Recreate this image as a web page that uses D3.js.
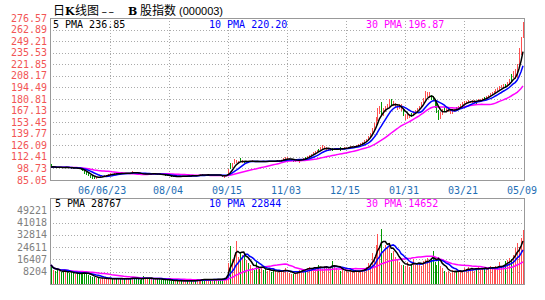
<!DOCTYPE html>
<meta charset="utf-8">
<style>
    body { margin: 0; background: #fff; }
    text { font-family: "DejaVu Sans Mono", monospace; font-size: 10px; }
    .grid line { stroke: #aaa; stroke-dasharray: 1,2; }
    .frame { fill: none; stroke: #999; }
    .bar { shape-rendering: crispEdges; }
</style>
<svg id="chart" width="545" height="300"></svg>
<script src="https://d3js.org/d3.v7.min.js"></script>
<script>
// daily bars, 2006-05 .. 2007-05-09, index 0..240
var opens = [
    101.8,100.4,101.0,100.1,99.4,100.3,100.0,99.5,100.4,99.8,
    99.4,99.2,98.7,99.5,98.6,98.1,97.4,96.0,94.2,92.4,
    91.0,89.2,88.0,87.6,88.6,88.1,89.0,89.9,90.6,91.0,
    91.6,92.4,92.0,92.8,92.4,93.1,92.6,93.2,92.8,93.0,
    93.4,92.9,94.6,94.0,93.2,92.8,92.4,91.9,91.8,92.3,
    92.6,92.2,92.5,91.9,92.4,92.1,91.6,91.3,91.0,90.6,
    90.2,89.8,89.4,89.0,89.3,89.1,89.5,89.2,89.6,89.9,
    89.7,90.0,89.8,90.3,90.1,90.6,91.0,91.4,91.2,90.8,
    91.1,91.3,91.0,91.2,90.9,91.1,90.7,90.2,89.2,89.5,
    90.5,104.0,99.0,104.0,105.0,106.0,108.0,106.5,107.5,106.8,
    107.2,106.6,107.3,107.8,107.0,106.6,107.0,106.8,107.5,107.2,
    106.8,107.0,107.6,107.3,106.9,107.4,107.2,107.6,108.6,110.0,
    110.0,109.0,108.0,108.5,108.0,108.5,108.0,108.5,109.0,112.0,
    111.5,113.0,114.0,115.5,117.0,118.0,121.5,121.0,122.5,122.5,
    120.5,121.0,119.5,122.0,121.5,120.6,121.0,124.0,121.5,122.5,
    122.8,123.5,124.0,124.5,123.6,124.0,126.0,127.0,128.0,129.0,
    131,133,136,140,145,151,156,164,172,164,
    168,170,173,180,172.5,170.5,169,171,166.5,168,
    157,158,158.5,163.5,163,165,167,169,172,176,
    180,186,182.5,184,183,180,174,166,160,164,
    171,166,167,164.5,166,166,170.5,170,172,174,
    176,177,176.5,177,178,176.5,178.5,178,178.5,179,
    182.5,182,183,185,186,188,189,191,192,194,
    195,197,196,199,209,208,205,206,221,238,254
];
var highs = [
    103.9,101.6,101.3,100.5,100.6,100.8,100.3,100.7,100.6,100.1,
    99.8,99.5,99.9,99.7,98.9,98.4,97.6,96.2,94.5,92.8,
    91.3,89.6,88.6,89.0,89.1,89.4,90.2,91.0,91.5,92.0,
    92.8,92.7,93.2,93.1,93.4,93.3,93.6,93.5,93.4,93.8,
    93.6,96.1,95.0,94.2,93.5,93.0,92.7,92.9,92.6,93.0,
    92.9,92.8,92.7,92.7,92.6,92.3,91.9,91.6,91.2,90.9,
    90.5,90.0,89.7,89.7,89.6,89.9,89.7,90.0,90.3,90.2,
    90.4,90.3,90.6,90.5,91.0,91.4,92.1,91.7,91.4,91.4,
    91.6,91.5,91.5,91.4,91.4,91.3,90.9,90.4,89.9,90.7,
    98.0,105.0,105.0,109.5,108.5,108.0,110.5,108.5,108.0,107.8,
    107.6,107.9,108.4,108.0,107.3,107.5,107.4,108.0,107.9,107.5,
    107.5,108.1,108.0,107.6,107.9,108.5,108.3,109.2,110.6,111.8,
    112.0,110.8,109.8,108.9,109.0,109.5,109.4,109.6,110.6,112.0,
    113.6,114.8,116.2,117.8,119.0,120.5,122.0,124.0,126.4,125.0,
    123.5,123.0,122.6,122.6,123.4,123.0,123.2,124.4,123.0,123.8,
    124.0,124.6,125.2,125.8,125.4,126.6,127.6,128.8,129.8,131.8,
    134,137,141,146.5,153,160,169.8,172,177,170,
    172,175,181,181,178,175.5,173.5,175,174.5,168.5,
    163.5,163,162.5,164,166.5,168,170.5,173,177.5,181.5,
    190,189.5,189,186,184,180.5,177,168,166,169.5,
    171.5,171,170.5,169.5,169,169.5,171,173,175,177,
    178,179,179.5,179,180,180,179,181,181,182,
    183,184.5,186,187.5,189,190.5,192.5,193.5,196,197,
    198.5,199,200.5,204.5,210,214,216,222,241,254,272
];
var lows = [
    99.6,99.8,99.5,99.0,99.1,99.6,99.2,99.3,99.4,99.0,
    98.7,98.3,98.5,98.2,97.6,96.8,95.2,93.0,91.5,89.8,
    87.5,86.4,86.0,87.2,87.6,87.8,88.7,89.5,90.2,90.6,
    91.3,91.6,91.8,92.0,92.1,92.2,92.3,92.5,92.4,92.7,
    92.5,92.8,93.6,92.9,92.3,91.9,91.5,91.0,91.5,92.0,
    91.8,91.9,91.5,91.6,91.7,91.2,90.9,90.5,90.1,89.8,
    89.3,88.9,88.3,88.5,88.6,88.8,88.8,89.0,89.3,89.4,
    89.4,89.5,89.6,89.8,89.9,90.4,90.8,90.9,90.5,90.5,
    90.8,90.7,90.7,90.5,90.6,90.3,89.7,88.3,88.0,89.2,
    90.3,98.0,98.5,103.0,104.5,105.0,106.0,105.5,106.0,106.2,
    106.0,106.2,107.0,106.5,105.9,106.2,106.3,106.5,106.8,106.4,
    106.4,106.8,106.9,106.5,106.6,107.1,107.0,107.4,108.4,109.6,
    109.8,108.8,107.8,106.5,107.2,108.0,105.0,107.8,108.6,109.6,
    111.0,112.5,113.6,115.0,116.4,117.5,119.0,120.5,122.0,122.0,
    120.0,119.8,118.5,119.0,120.6,120.2,120.5,120.0,121.0,122.0,
    122.3,123.0,123.6,124.0,123.4,123.8,125.5,126.5,127.5,128.6,
    130.5,132.5,135.5,139.5,144.5,150,155,162,162,161,
    165,168.5,172,174,172,170,168,169.5,166,160,
    156.5,157,158,159,162,163.5,165.5,168,171,175,
    179,184,182,180,177.5,170,164,156,158,162.5,
    166,165.5,166,164,163,165.5,166,169,171,173,
    175,176,176,176.5,177,176,176,177,178,178.5,
    180,181,182,184,185,187,188,190,191,193,
    194,194.5,195,198,202,206,204,205,219,233,253
];
var closes = [
    100.5,101.0,100.0,99.5,100.2,100.0,99.6,100.3,99.8,99.5,
    99.2,98.8,99.5,98.6,98.2,97.5,96.0,94.0,92.5,91.0,
    89.0,88.2,87.8,88.5,88.2,89.0,89.8,90.5,91.0,91.5,
    92.3,92.0,92.8,92.4,93.0,92.6,93.2,92.8,93.0,93.4,
    92.9,94.5,94.0,93.2,92.8,92.4,92.0,91.8,92.3,92.6,
    92.2,92.5,91.9,92.4,92.1,91.6,91.3,91.0,90.6,90.2,
    89.8,89.4,89.0,89.3,89.1,89.5,89.2,89.6,89.9,89.7,
    90.0,89.8,90.3,90.1,90.6,91.0,91.4,91.2,90.8,91.1,
    91.3,91.0,91.2,90.9,91.1,90.7,90.2,89.2,89.5,90.3,
    97.0,99.0,104.0,107.0,106.0,107.5,106.5,107.5,106.8,107.2,
    106.6,107.3,107.8,107.0,106.6,107.0,106.8,107.5,107.2,106.8,
    107.0,107.6,107.3,106.9,107.4,108.0,107.6,108.6,110.0,111.0,
    110.5,109.5,108.5,108.0,108.5,109.0,108.5,109.0,110.0,111.5,
    113.0,114.0,115.5,117.0,118.0,119.5,121.0,122.5,124.0,123.0,
    121.0,122.0,120.0,121.5,122.5,121.0,122.5,121.5,122.5,123.0,
    123.5,124.0,124.5,125.0,124.0,126.0,127.0,128.0,129.0,131.0,
    133,136,140,145,151,156,164,171,164,168,
    170,173,176,177,174,172,171,174,168,163,
    158,161,160,163,165,167,169,172,176,180,
    186,188,184,183,180,172,166,160,164,168,
    170,167,169,166,168,167,170,172,174,176,
    177,178,177,178,179,177,178,180,179,181,
    182,183,185,186,188,189,191,192,194,195,
    197,196,199,203,208,212,206,220,238,252,268
];
var volumes = [
    12700,9500,8800,9200,8400,7900,8600,9100,8000,7600,
    7800,7200,6900,7500,6400,7000,8200,7800,6600,5900,
    5200,4800,4500,4100,3900,3600,4200,3800,3500,3300,
    3600,3400,3900,3700,3200,3500,3800,3300,3600,3400,
    3700,4600,4100,3600,3300,3000,3400,5200,3900,3600,
    3500,3800,3300,3600,3400,3100,2900,3200,2800,2600,
    2500,2300,2100,2400,2200,2000,2300,2100,1900,2200,
    2000,2400,2100,2300,2500,2800,3100,3600,2900,2700,
    3000,2800,3300,2900,3100,3400,3000,3600,4200,5000,
    13800,25600,17000,19400,28700,18000,20500,19400,20000,16000,
    13800,12500,11000,9300,14900,10500,9800,11200,9600,10200,
    8800,9400,8200,9000,8600,7800,9100,8400,9500,10400,
    8000,7200,6500,6800,7600,8200,9400,8800,10200,9600,
    10800,11200,9800,10500,11600,10900,12400,11000,10200,11800,
    12200,10600,9800,15500,13000,11000,9500,8800,9800,9000,
    8600,8000,9200,7800,8400,9000,8200,8800,9600,10400,
    11500,13800,12600,20500,17800,26000,33400,24000,36500,22000,
    26000,24000,26000,21000,22000,18000,16000,14500,13000,12500,
    12000,14500,11500,13000,16500,12800,13500,14200,12000,15500,
    16000,17500,15000,16800,22000,14500,13000,18200,12000,11000,
    9000,8200,8800,7600,9400,8000,8600,7900,9200,8500,
    10500,9800,11200,9400,10800,9000,10200,11500,9600,10800,
    10000,11200,9800,12000,11000,10500,11800,10600,14500,11200,
    12000,15200,16000,17500,16800,19100,24000,27600,25000,31000,36000
];

var priceTicks = [276.57, 262.89, 249.21, 235.53, 221.85, 208.17, 194.49, 180.81,
    167.13, 153.45, 139.77, 126.09, 112.41, 98.73, 85.05];
var volTicks = [49221, 41018, 32814, 24611, 16407, 8204];
var dateLabels = ["06/06/23", "08/04", "09/15", "11/03", "12/15", "01/31", "03/21", "05/09"];
var dateIdx = [30, 60, 90, 120, 150, 180, 210, 240];

var priceLegend = [["5 PMA 236.85", "#000"], ["10 PMA 220.20", "#0000ff"], ["30 PMA 196.87", "#ff00ff"]];
var volLegend = [["5 PMA 28767", "#000"], ["10 PMA 22844", "#0000ff"], ["30 PMA 14652", "#ff00ff"]];

var UP = "#ff5050", DOWN = "#009900";

var svg = d3.select("#chart");

var left = 50, right = 524;
var x = d3.scaleLinear().domain([0, 240]).range([51, 523]);
var yP = d3.scaleLinear().domain([85.05, 276.57]).range([180, 18]);
var yV = d3.scaleLinear().domain([0, 57424.5]).range([284, 198]);

function movAvg(arr, n) {
    return arr.map(function (d, i) {
        return d3.mean(arr.slice(Math.max(0, i - n + 1), i + 1));
    });
}

var idx = d3.range(closes.length);
var px = function (i) { return Math.round(x(i)) + 0.5; };
var colour = function (i) { return closes[i] >= opens[i] ? UP : DOWN; };

// title, pieces placed one by one
var titleParts = [
    ["日", 53, "'Noto Sans CJK SC'", "normal", 12],
    ["K", 65, "'DejaVu Serif'", "bold", 11],
    ["线图", 75, "'Noto Sans CJK SC'", "normal", 12],
    ["––", 101.5, "'DejaVu Sans'", "normal", 11],
    ["B", 128, "'DejaVu Serif'", "bold", 11],
    ["股指数", 140, "'Noto Sans CJK SC'", "normal", 12],
    ["(000003)", 179, "'Liberation Sans'", "normal", 11]
];
svg.append("g").selectAll("text").data(titleParts).enter().append("text")
    .attr("x", function (d) { return d[1]; }).attr("y", 15)
    .style("font-family", function (d) { return d[2]; })
    .style("font-weight", function (d) { return d[3]; })
    .style("font-size", function (d) { return d[4] + "px"; })
    .style("letter-spacing", function (d) { return d[0] === "––" ? "1.5px" : null; })
    .text(function (d) { return d[0]; });

function panel(top, bottom, yScale, ticks) {
    var g = svg.append("g").attr("class", "grid");
    g.selectAll("line.h").data(ticks).enter().append("line")
        .attr("x1", left).attr("x2", right)
        .attr("y1", function (d) { return Math.round(yScale(d)) + 0.5; })
        .attr("y2", function (d) { return Math.round(yScale(d)) + 0.5; });
    g.selectAll("line.v").data(dateIdx.slice(0, 7)).enter().append("line")
        .attr("x1", px).attr("x2", px)
        .attr("y1", top).attr("y2", bottom);
    svg.append("rect").attr("class", "frame")
        .attr("x", left + 0.5).attr("y", top + 0.5)
        .attr("width", right - left).attr("height", bottom - top);
}

panel(18, 180, yP, priceTicks.slice(1, -1));
panel(198, 284, yV, volTicks);

// axis labels
svg.append("g").selectAll("text").data(priceTicks).enter().append("text")
    .attr("x", 47).attr("y", function (d) { return yP(d); }).attr("dy", "0.35em")
    .attr("text-anchor", "end").attr("fill", "#f25555").text(function (d) { return d.toFixed(2); });
svg.append("g").selectAll("text").data(volTicks).enter().append("text")
    .attr("x", 47).attr("y", function (d) { return yV(d); }).attr("dy", "0.35em")
    .attr("text-anchor", "end").attr("fill", "#808080").text(function (d) { return d; });
svg.append("g").selectAll("text").data(dateLabels).enter().append("text")
    .attr("x", function (d, i) { return x(dateIdx[i]) - 1 - (d.length - 5) * 2.3; })
    .attr("y", 194).attr("text-anchor", "middle").attr("fill", "#1f6fb5")
    .text(function (d) { return d; });

// candles: 1px high-low bar per day
svg.append("g").selectAll("rect").data(idx).enter().append("rect")
    .attr("class", "bar")
    .attr("x", function (i) { return Math.round(x(i)); }).attr("width", 1)
    .attr("y", function (i) { return Math.round(yP(highs[i])); })
    .attr("height", function (i) { return Math.max(1, Math.round(yP(lows[i]) - yP(highs[i]))); })
    .attr("fill", colour);

// volume bars
svg.append("g").selectAll("rect").data(idx).enter().append("rect")
    .attr("class", "bar")
    .attr("x", function (i) { return Math.round(x(i)); }).attr("width", 1)
    .attr("y", function (i) { return Math.round(yV(volumes[i])); })
    .attr("height", function (i) { return yV(0) - Math.round(yV(volumes[i])); })
    .attr("fill", colour);

// moving averages
var maSpecs = [[30, "#ff00ff"], [10, "#0000ff"], [5, "#000"]];
maSpecs.forEach(function (m) {
    var pm = movAvg(closes, m[0]);
    var vm = movAvg(volumes, m[0]);
    svg.append("path").datum(idx)
        .attr("fill", "none").attr("stroke", m[1]).attr("stroke-width", 1.5)
        .attr("d", d3.line().x(function (i) { return x(i); }).y(function (i) { return yP(pm[i]); }));
    svg.append("path").datum(idx)
        .attr("fill", "none").attr("stroke", m[1]).attr("stroke-width", 1.5)
        .attr("d", d3.line().x(function (i) { return x(i); }).y(function (i) { return yV(vm[i]); }));
});

// legends
var legX = [53, 209, 366];
svg.append("g").selectAll("text").data(priceLegend).enter().append("text")
    .attr("x", function (d, i) { return legX[i]; }).attr("y", 28)
    .attr("fill", function (d) { return d[1]; }).text(function (d) { return d[0]; });
svg.append("g").selectAll("text").data(volLegend).enter().append("text")
    .attr("x", function (d, i) { return legX[i] + (i === 0 ? 2 : 0); }).attr("y", 207)
    .attr("fill", function (d) { return d[1]; }).text(function (d) { return d[0]; });
</script>
